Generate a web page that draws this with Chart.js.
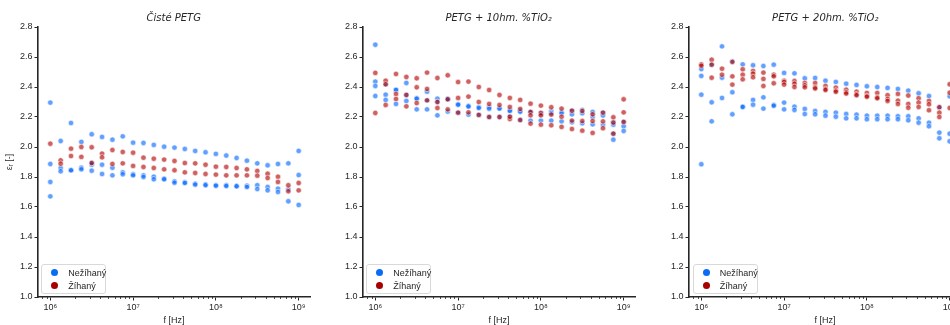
<!DOCTYPE html>
<html>
<head>
<meta charset="utf-8">
<script src="https://cdn.jsdelivr.net/npm/chart.js@4.4.1/dist/chart.umd.min.js"></script>
<style>
    body { margin: 0; width: 950px; height: 325px; overflow: hidden; background: #fff; font-family: 'Liberation Sans', Arial, sans-serif; }
    .panel { position: absolute; top: 0; width: 324px; height: 325px; }
    .title { position: absolute; top: 12px; left: 40px; width: 272px; text-align: center; font-style: italic; font-size: 10px; color: #262626; font-family: 'DejaVu Sans', sans-serif; }
    .legend { position: absolute; top: 264px; left: 43.5px; width: 63px; height: 28px; border: 1px solid #d9d9d9; border-radius: 3px; background: rgba(255,255,255,0.85); font-size: 9px; color: #262626; }
    .dot { position: absolute; left: 9px; width: 7px; height: 7px; border-radius: 50%; }
    .lbl { position: absolute; left: 26px; line-height: 10px; }
</style>
</head>
<body>
<div id="charts"></div>
<script>
// frequencies (8 per decade, 1 MHz .. 1 GHz)
const freqs = [1.000e6, 1.334e6, 1.778e6, 2.371e6, 3.162e6, 4.217e6, 5.623e6, 7.499e6,
               1.000e7, 1.334e7, 1.778e7, 2.371e7, 3.162e7, 4.217e7, 5.623e7, 7.499e7,
               1.000e8, 1.334e8, 1.778e8, 2.371e8, 3.162e8, 4.217e8, 5.623e8, 7.499e8, 1.000e9];

const xTicks = [1e6, 1e7, 1e8, 1e9];
const xTickLabels = ['10⁶', '10⁷', '10⁸', '10⁹'];

const titles = ['Čisté PETG', 'PETG + 10hm. %TiO₂', 'PETG + 20hm. %TiO₂'];
const seriesNames = ['Nežíhaný', 'Žíhaný'];

// Čisté PETG - nežíhaný (samples)
const cisteNez1 = [2.296, 2.040, 2.160, 2.034, 2.085, 2.067, 2.049, 2.071, 2.029, 2.027, 2.014, 2.002, 1.996, 1.987, 1.974, 1.965, 1.954, 1.943, 1.927, 1.909, 1.891, 1.878, 1.887, 1.891, 1.974];
const cisteNez2 = [1.887, 1.860, 1.845, 1.862, 1.882, 1.882, 1.862, 1.831, 1.818, 1.811, 1.802, 1.789, 1.771, 1.765, 1.756, 1.751, 1.745, 1.745, 1.740, 1.742, 1.745, 1.733, 1.722, 1.718, 1.813];
const cisteNez3 = [1.767, 1.838, 1.845, 1.851, 1.842, 1.820, 1.811, 1.818, 1.811, 1.800, 1.785, 1.785, 1.762, 1.760, 1.749, 1.745, 1.742, 1.740, 1.738, 1.733, 1.720, 1.711, 1.700, 1.638, 1.614];
const cisteNez4 = [1.671, null, null, null, 1.893, null, null, null, null, null, null, null, null, null, null, null, null, null, null, null, null, null, null, null, null];
// Čisté PETG - žíhaný
const cisteZih1 = [2.022, 1.911, 1.989, 2.000, 1.998, 1.956, 1.980, 1.967, 1.962, 1.929, 1.922, 1.916, 1.907, 1.893, 1.891, 1.882, 1.869, 1.867, 1.860, 1.851, 1.840, 1.822, 1.802, 1.745, 1.760];
const cisteZih2 = [null, 1.889, 1.940, 1.934, 1.893, 1.931, 1.887, 1.891, 1.874, 1.867, 1.860, 1.851, 1.845, 1.831, 1.827, 1.820, 1.816, 1.811, 1.811, 1.811, 1.809, 1.793, 1.767, 1.705, 1.711];

// PETG + 10 hm.% TiO2 - nežíhaný
const tio10Nez1 = [2.682, 2.418, 2.382, 2.427, 2.325, 2.369, 2.322, 2.318, 2.285, 2.274, 2.265, 2.265, 2.260, 2.245, 2.242, 2.234, 2.227, 2.238, 2.234, 2.242, 2.247, 2.234, 2.229, 2.165, 2.167];
const tio10Nez2 = [2.436, 2.349, 2.380, 2.347, 2.322, 2.311, 2.300, 2.320, 2.282, 2.270, 2.260, 2.255, 2.256, 2.240, 2.235, 2.230, 2.220, 2.225, 2.225, 2.218, 2.225, 2.200, 2.210, 2.149, 2.138];
const tio10Nez3 = [2.340, 2.314, 2.287, 2.307, 2.251, 2.251, 2.211, 2.236, 2.229, 2.216, 2.214, 2.200, 2.200, 2.202, 2.180, 2.176, 2.176, 2.176, 2.171, 2.165, 2.158, 2.151, 2.149, 2.049, 2.107];
const tio10Nez4 = [2.407, null, null, null, null, null, null, null, null, null, null, null, null, null, null, null, null, null, null, null, null, null, null, 2.089, null];
// PETG + 10 hm.% TiO2 - žíhaný
const tio10Zih1 = [2.494, 2.442, 2.487, 2.467, 2.458, 2.496, 2.460, 2.478, 2.433, 2.436, 2.400, 2.380, 2.347, 2.327, 2.314, 2.289, 2.276, 2.265, 2.256, 2.242, 2.240, 2.218, 2.229, 2.198, 2.318];
const tio10Zih2 = [null, 2.418, 2.354, 2.347, 2.398, 2.387, 2.300, 2.318, 2.327, 2.336, 2.300, 2.287, 2.280, 2.267, 2.254, 2.234, 2.227, 2.216, 2.202, 2.176, 2.173, 2.173, 2.171, 2.163, 2.231];
const tio10Zih3 = [2.227, 2.280, 2.320, 2.271, 2.293, 2.311, 2.260, 2.251, 2.229, 2.231, 2.214, 2.200, 2.200, 2.187, 2.180, 2.156, 2.149, 2.145, 2.134, 2.120, 2.109, 2.094, 2.125, 2.089, 2.167];
const tio10Zih4 = [null, null, null, null, null, null, null, null, null, null, null, null, null, 2.202, null, 2.211, 2.211, null, null, null, null, null, null, null, null];

// PETG + 20 hm.% TiO2 - nežíhaný
const tio20Nez1 = [2.520, 2.549, 2.671, 2.571, 2.551, 2.545, 2.540, 2.549, 2.494, 2.491, 2.458, 2.460, 2.442, 2.434, 2.422, 2.414, 2.405, 2.400, 2.394, 2.387, 2.376, 2.358, 2.340, 2.265, 2.338];
const tio20Nez2 = [2.349, 2.298, 2.327, 2.365, 2.269, 2.314, 2.331, 2.280, 2.296, 2.269, 2.254, 2.240, 2.234, 2.229, 2.220, 2.216, 2.209, 2.209, 2.209, 2.205, 2.205, 2.191, 2.162, 2.096, 2.089];
const tio20Nez3 = [1.885, 2.171, 2.462, 2.218, 2.267, 2.282, 2.256, 2.275, 2.251, 2.247, 2.220, 2.218, 2.209, 2.202, 2.191, 2.191, 2.185, 2.185, 2.185, 2.185, 2.178, 2.162, 2.138, 2.058, 2.038];
const tio20Nez4 = [2.474, null, null, null, null, null, null, null, null, null, null, null, null, null, null, null, null, null, null, null, null, null, null, null, null];
// PETG + 20 hm.% TiO2 - žíhaný
const tio20Zih1 = [2.551, 2.582, 2.522, 2.567, 2.518, 2.507, 2.496, 2.482, 2.442, 2.440, 2.427, 2.427, 2.407, 2.396, 2.382, 2.369, 2.360, 2.360, 2.345, 2.354, 2.343, 2.325, 2.307, 2.265, 2.418];
const tio20Zih2 = [2.542, 2.549, 2.482, 2.471, 2.482, 2.489, 2.454, 2.471, 2.434, 2.422, 2.411, 2.398, 2.387, 2.376, 2.365, 2.351, 2.340, 2.331, 2.320, 2.309, 2.287, 2.296, 2.285, 2.229, 2.362];
const tio20Zih3 = [null, 2.462, null, 2.416, 2.451, 2.465, 2.407, 2.425, 2.416, 2.400, 2.398, 2.390, 2.380, 2.368, 2.356, 2.345, 2.335, 2.325, 2.307, 2.287, 2.262, 2.267, 2.245, 2.200, 2.260];

const panels = [
    { left: -2.3, title: titles[0], nez: [cisteNez1, cisteNez2, cisteNez3, cisteNez4], zih: [cisteZih1, cisteZih2], ylabel: true },
    { left: 322.7, title: titles[1], nez: [tio10Nez1, tio10Nez2, tio10Nez3, tio10Nez4], zih: [tio10Zih1, tio10Zih2, tio10Zih3, tio10Zih4], ylabel: false },
    { left: 649.3, title: titles[2], nez: [tio20Nez1, tio20Nez2, tio20Nez3, tio20Nez4], zih: [tio20Zih1, tio20Zih2, tio20Zih3], ylabel: false }
];

const blueFill = 'rgba(0, 102, 255, 0.62)';
const redFill = 'rgba(178, 0, 0, 0.62)';
const blueSolid = '#0a6cf5';
const redSolid = '#a80000';
const ink = '#262626';

// flatten sample arrays into scatter points
function toPoints(samples) {
    const pts = [];
    samples.forEach(s => {
        s.forEach((v, i) => {
            if (v !== null) pts.push({ x: freqs[i], y: v });
        });
    });
    return pts;
}

// short minor ticks on the log axis
const minorTicks = {
    id: 'minorTicks',
    afterDraw(chart) {
        const s = chart.scales.x;
        const ctx = chart.ctx;
        ctx.save();
        ctx.strokeStyle = ink;
        ctx.lineWidth = 0.8;
        for (let e = 5; e <= 9; e++) {
            for (let m = 2; m <= 9; m++) {
                const v = m * Math.pow(10, e);
                if (v < s.min || v > s.max) continue;
                const px = Math.round(s.getPixelForValue(v)) + 0.5;
                ctx.beginPath();
                ctx.moveTo(px, s.top);
                ctx.lineTo(px, s.top + 2);
                ctx.stroke();
            }
        }
        ctx.restore();
    }
};

const host = document.getElementById('charts');

panels.forEach(p => {
    const div = document.createElement('div');
    div.className = 'panel';
    div.style.left = p.left + 'px';
    div.innerHTML = `
        <canvas width="324" height="325"></canvas>
        <div class="title">${p.title}</div>
        <div class="legend">
            <span class="dot" style="top:4px;background:${blueSolid}"></span><span class="lbl" style="top:3px">${seriesNames[0]}</span>
            <span class="dot" style="top:17px;background:${redSolid}"></span><span class="lbl" style="top:16px">${seriesNames[1]}</span>
        </div>`;
    host.appendChild(div);

    new Chart(div.querySelector('canvas').getContext('2d'), {
        type: 'scatter',
        data: {
            datasets: [
                {
                    label: seriesNames[1],
                    data: toPoints(p.zih),
                    backgroundColor: redFill,
                    borderColor: 'rgba(255,255,255,0.7)',
                    borderWidth: 0.8,
                    pointRadius: 2.7
                },
                {
                    label: seriesNames[0],
                    data: toPoints(p.nez),
                    backgroundColor: blueFill,
                    borderColor: 'rgba(255,255,255,0.7)',
                    borderWidth: 0.8,
                    pointRadius: 2.7
                }
            ]
        },
        options: {
            responsive: false,
            animation: false,
            layout: { padding: { top: 27, right: 12, left: 0, bottom: 0 } },
            plugins: { legend: { display: false }, tooltip: { enabled: false } },
            scales: {
                x: {
                    type: 'logarithmic',
                    min: 7.1e5,
                    max: 1.37e9,
                    afterBuildTicks: axis => { axis.ticks = xTicks.map(v => ({ value: v })); },
                    afterFit: axis => { axis.height = 28; },
                    ticks: {
                        autoSkip: false,
                        maxRotation: 0,
                        padding: 2,
                        color: ink,
                        font: { family: "'Liberation Sans', 'DejaVu Sans'", size: 9 },
                        callback: v => xTickLabels[xTicks.indexOf(v)] || ''
                    },
                    grid: { display: true, drawOnChartArea: false, drawTicks: true, tickLength: 3.5, tickColor: ink, tickWidth: 1 },
                    border: { display: true, color: ink, width: 1.6 },
                    title: { display: true, text: 'f [Hz]', color: ink, padding: { top: 0, bottom: -1 }, font: { family: "'Liberation Sans'", size: 9 } }
                },
                y: {
                    min: 1.0,
                    max: 2.8,
                    afterFit: axis => { axis.width = 40; },
                    ticks: {
                        stepSize: 0.2,
                        padding: 2,
                        color: ink,
                        font: { family: "'Liberation Sans'", size: 9 },
                        callback: v => v.toFixed(1)
                    },
                    grid: { display: true, drawOnChartArea: false, drawTicks: true, tickLength: 3.5, tickColor: ink, tickWidth: 1 },
                    border: { display: true, color: ink, width: 1.6 },
                    title: { display: p.ylabel, text: 'εᵣ [-]', color: ink, padding: { top: 6, bottom: 0 }, font: { family: "'Liberation Sans', 'DejaVu Sans'", size: 9 } }
                }
            }
        },
        plugins: [minorTicks]
    });
});
</script>
</body>
</html>
